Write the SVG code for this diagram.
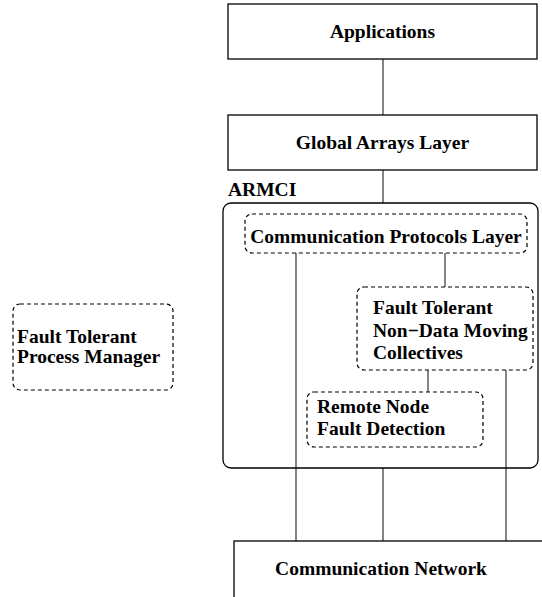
<svg xmlns="http://www.w3.org/2000/svg" width="542" height="597" viewBox="0 0 542 597">
<style>
text{font-family:"Liberation Serif","Times New Roman",serif;font-weight:bold;font-size:19.5px;fill:#000}
.box{fill:#fff;stroke:#000;stroke-width:1.3}
.dash{fill:none;stroke:#000;stroke-width:1.2;stroke-dasharray:4,3}
.conn line{stroke:#444;stroke-width:1.3}
</style>
<rect width="542" height="597" fill="#fff"/>
<g class="conn" id="connectors">
<line x1="383" y1="59" x2="383" y2="115"/>
<line x1="383" y1="170" x2="383" y2="203"/>
<line x1="445" y1="253" x2="445" y2="287"/>
<line x1="428" y1="370" x2="428" y2="392"/>
<line x1="296" y1="253" x2="296" y2="541"/>
<line x1="506" y1="370" x2="506" y2="541"/>
<line x1="383" y1="468" x2="383" y2="541"/>
</g>
<g id="applications">
<rect class="box" x="228" y="4" width="309" height="55"/>
<text x="382.5" y="38" text-anchor="middle">Applications</text>
</g>
<g id="global-arrays">
<rect class="box" x="228" y="115" width="309" height="55"/>
<text x="382.5" y="149" text-anchor="middle">Global Arrays Layer</text>
</g>
<g id="armci">
<text x="228" y="196">ARMCI</text>
<rect x="223" y="203" width="315" height="265" rx="8" fill="none" stroke="#000" stroke-width="1.3"/>
</g>
<g id="comm-protocols">
<rect class="dash" x="245" y="214" width="282" height="39" rx="7"/>
<text x="386" y="243" text-anchor="middle">Communication Protocols Layer</text>
</g>
<g id="ft-collectives">
<rect class="dash" x="357" y="287" width="176" height="83" rx="7"/>
<text x="373" y="314">Fault Tolerant</text>
<text x="373" y="337">Non−Data Moving</text>
<text x="373" y="359">Collectives</text>
</g>
<g id="remote-node">
<rect class="dash" x="307" y="392" width="176" height="55" rx="7"/>
<text x="317" y="413">Remote Node</text>
<text x="317" y="435">Fault Detection</text>
</g>
<g id="process-manager">
<rect class="dash" x="13" y="304" width="160" height="86" rx="7"/>
<text x="17" y="343">Fault Tolerant</text>
<text x="17" y="363">Process Manager</text>
</g>
<g id="comm-network">
<rect class="box" x="234" y="541" width="320" height="70"/>
<text x="381" y="575" text-anchor="middle">Communication Network</text>
</g>
</svg>
